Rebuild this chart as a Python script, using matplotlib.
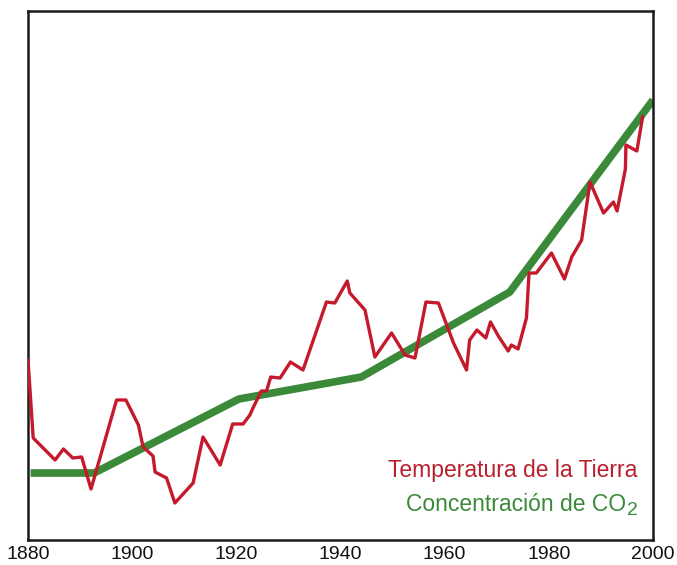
import numpy as np
import matplotlib.pyplot as plt
from matplotlib.transforms import offset_copy

plt.rcParams['font.family'] = ['Liberation Sans', 'DejaVu Sans']

# Temperature anomaly (arbitrary units)
temp_years = [1880, 1881, 1885.2, 1886.8, 1888.6, 1890.3, 1892.1, 1897, 1898.8,
              1901.2, 1902.1, 1904, 1904.4, 1906.6, 1908.2, 1911.7, 1913.6,
              1916.9, 1919.3, 1921.3, 1922.6, 1923.2, 1924.8, 1925.8, 1926.6,
              1928.4, 1930.4, 1932.8, 1937.3, 1938.9, 1941.3, 1941.8, 1944.7,
              1946.6, 1949.8, 1952.4, 1954.3, 1956.4, 1958.8, 1961.7, 1964.2,
              1964.8, 1966.2, 1967.9, 1968.8, 1970.3, 1972.2, 1972.8, 1974.1,
              1975.7, 1976.2, 1977.6, 1980.5, 1983.0, 1984.4, 1986.3, 1987.9,
              1990.5, 1992.4, 1993.1, 1994.7, 1994.8, 1996.9, 1998.0]
temp_values = [180, 102, 80, 91, 82, 83, 51, 140, 140,
               115, 93, 84, 68, 62, 37, 57, 103,
               75, 116, 116, 125, 132, 149, 149, 163,
               162, 178, 170, 238, 237, 259, 247, 230,
               183, 207, 185, 182, 238, 237, 197, 170,
               200, 210, 202, 218, 204, 189, 195, 191,
               222, 267, 267, 287, 261, 283, 300, 358,
               327, 338, 329, 371, 395, 389, 423]

# CO2 concentration (arbitrary units)
co2_years = [1880.5, 1892.7, 1920.5, 1944.0, 1972.5, 2000]
co2_values = [67, 67, 141, 163, 248, 440]

red = '#c41a2c'
green = '#3b8a3a'

fig = plt.figure(figsize=(6.77, 5.65), dpi=100)
ax = fig.add_axes([28 / 677, 25 / 565, 625 / 677, 529 / 565])

ax.plot(co2_years, co2_values, color=green, lw=5.5, solid_capstyle='butt', zorder=2)
ax.plot(temp_years, temp_values, color=red, lw=2.4, zorder=3)

ax.set_xlim(1880, 2000)
ax.set_ylim(0, 529)
ax.set_xticks([1880, 1900, 1920, 1940, 1960, 1980, 2000])
ax.set_yticks([])
ax.tick_params(axis='x', length=0, pad=4, labelsize=14, labelcolor='#111111')
for sp in ax.spines.values():
    sp.set_linewidth(1.8)
    sp.set_color('#1a1a1a')

ax.text(0.975, 0.119, 'Temperatura de la Tierra', transform=ax.transAxes,
        ha='right', va='baseline', fontsize=16.5, color='#b8202c')

# CO2 label with a large, lowered subscript
sub = ax.text(0.975, 0.119 - 0.064 - 0.008, '2', transform=ax.transAxes,
              ha='right', va='baseline', fontsize=14, color=green)
fig.canvas.draw()
sub_w = sub.get_window_extent().width
ax.text(0.975, 0.055, 'Concentración de CO',
        transform=offset_copy(ax.transAxes, fig=fig, x=-sub_w * 72 / fig.dpi, units='points'),
        ha='right', va='baseline', fontsize=16.5, color=green)

fig.savefig('out.png', dpi=100)
